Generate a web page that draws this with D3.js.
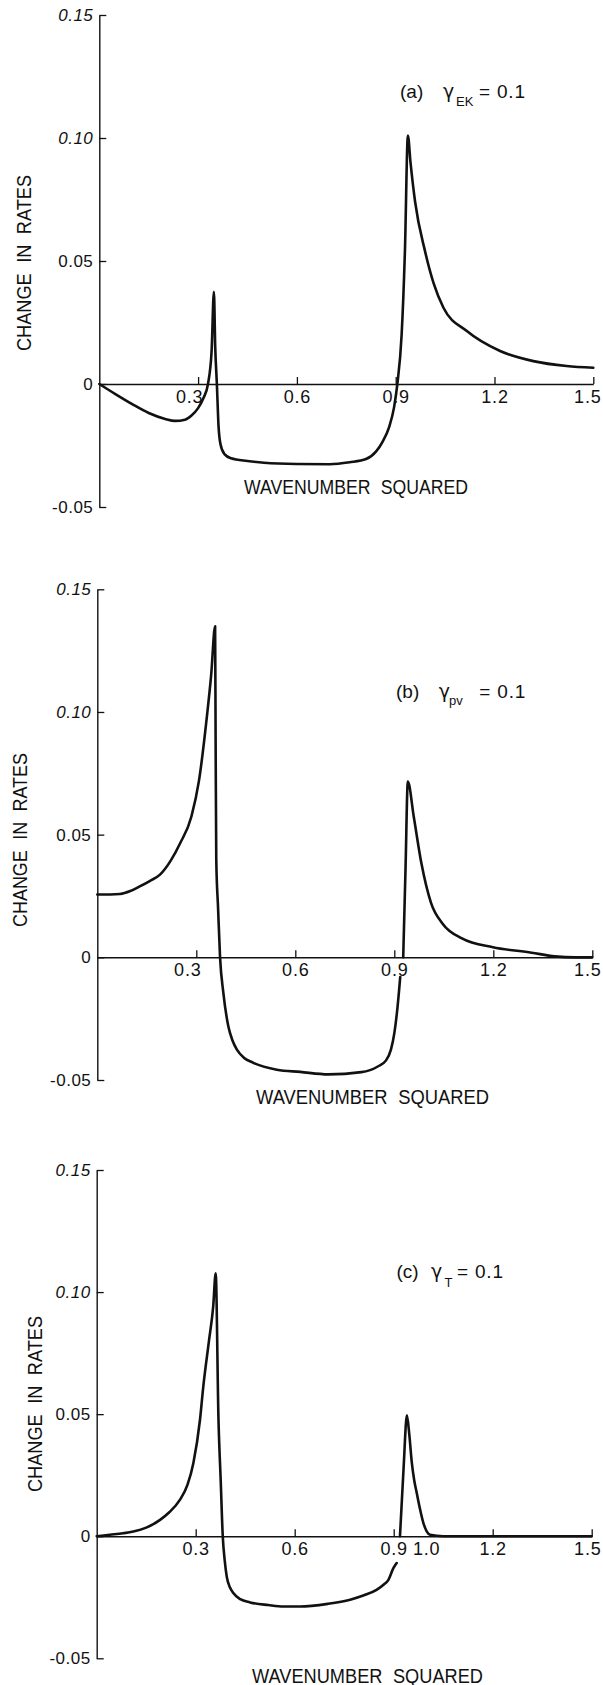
<!DOCTYPE html>
<html><head><meta charset="utf-8">
<script src="https://cdn.jsdelivr.net/npm/d3@7"></script>
<style>
html,body{margin:0;padding:0;background:#fff;}
svg{display:block;background:#fff;}
text{font-family:"Liberation Sans",Arial,Helvetica,sans-serif;fill:#111;}
</style></head><body>
<svg id="chart" width="603" height="1685"></svg>
<script>
// ---------------- data ----------------
const yTickValues = [-0.05, 0, 0.05, 0.10, 0.15];
const yTickLabels = ["-0.05", "0", "0.05", "0.10", "0.15"];
const xTickValues = [0.3, 0.6, 0.9, 1.2, 1.5];
const xTickLabels = ["0.3", "0.6", "0.9", "1.2", "1.5"];
const xExtraLabelValuesC = [1.0];
const xExtraLabelsC = ["1.0"];
const xTitle = "WAVENUMBER SQUARED";
const yTitle = "CHANGE IN RATES";
const panelTags = ["(a)", "(b)", "(c)"];
const gammaSubs = ["EK", "pv", "T"];
const gammaValues = ["0.1", "0.1", "0.1"];

// (a) gamma_EK = 0.1
const xA = [0, 0.05, 0.1, 0.15, 0.2, 0.23, 0.26, 0.28, 0.3, 0.316, 0.33, 0.341, 0.348, 0.352, 0.357, 0.362, 0.368, 0.38, 0.4, 0.45, 0.5, 0.6, 0.7, 0.76, 0.81, 0.84, 0.86, 0.88, 0.895, 0.905, 0.918, 0.928, 0.937, 0.945, 0.959, 0.989, 1.015, 1.045, 1.116, 1.217, 1.318, 1.419, 1.5];
const yA = [0, -0.0042, -0.0082, -0.0118, -0.0142, -0.015, -0.0145, -0.0128, -0.0098, -0.0058, 0, 0.0134, 0.0375, 0.015, 0, -0.017, -0.0245, -0.0285, -0.0302, -0.0313, -0.032, -0.0325, -0.0326, -0.0318, -0.0305, -0.0275, -0.0235, -0.0175, -0.0095, 0, 0.02, 0.054, 0.101, 0.09, 0.074, 0.054, 0.041, 0.031, 0.0215, 0.0134, 0.0093, 0.0073, 0.0066];

// (b) gamma_pv = 0.1 (two branches)
const xB1 = [0, 0.04, 0.069, 0.1, 0.13, 0.16, 0.19, 0.223, 0.251, 0.285, 0.308, 0.332, 0.345, 0.357, 0.3585, 0.3605, 0.366, 0.372, 0.382, 0.397, 0.41, 0.423, 0.445, 0.473, 0.544, 0.615, 0.7, 0.8, 0.85, 0.875, 0.89, 0.9, 0.91, 0.918];
const yB1 = [0.0256, 0.0256, 0.0258, 0.027, 0.029, 0.0312, 0.0337, 0.0395, 0.0465, 0.0573, 0.0719, 0.098, 0.115, 0.1349, 0.09, 0.04, 0.02, 0, -0.0145, -0.0281, -0.034, -0.0376, -0.041, -0.043, -0.0458, -0.0467, -0.0477, -0.0468, -0.0445, -0.042, -0.0375, -0.031, -0.02, -0.008];
const xB2 = [0.927, 0.934, 0.941, 0.959, 0.982, 1.011, 1.047, 1.105, 1.199, 1.316, 1.386, 1.45, 1.5];
const yB2 = [0, 0.036, 0.0716, 0.0573, 0.0384, 0.0223, 0.0136, 0.0077, 0.0041, 0.0019, 0.0004, 0, 0];

// (c) gamma_T = 0.1 (two branches)
const xC1 = [0, 0.04, 0.08, 0.111, 0.15, 0.192, 0.22, 0.252, 0.275, 0.293, 0.313, 0.323, 0.34, 0.353, 0.3606, 0.369, 0.376, 0.382, 0.388, 0.394, 0.404, 0.414, 0.435, 0.465, 0.52, 0.566, 0.616, 0.7, 0.768, 0.81, 0.848, 0.87, 0.884, 0.899, 0.909];
const yC1 = [0, 0.0006, 0.0012, 0.0019, 0.0035, 0.0067, 0.0098, 0.0149, 0.021, 0.03, 0.0477, 0.0613, 0.0798, 0.094, 0.1077, 0.048, 0.022, 0, -0.01, -0.0165, -0.021, -0.0233, -0.0258, -0.0271, -0.0282, -0.0288, -0.0288, -0.0277, -0.026, -0.0242, -0.022, -0.0198, -0.0179, -0.0131, -0.011];
const xC2 = [0.919, 0.93, 0.94, 0.947, 0.955, 0.962, 0.97, 0.98, 0.99, 1.0, 1.01, 1.05, 1.2, 1.5];
const yC2 = [0, 0.028, 0.0495, 0.042, 0.03, 0.023, 0.0176, 0.011, 0.0054, 0.002, 0.0006, 0, 0, 0];

// ---------------- layout ----------------
const panels = [
  { series: [[xA, yA]], x0: 99.3, x1: 593.3, yTop: 15, yBot: 507, firstDx: -9,
    yt: { x: 30.5, y0: 175, y1: 351 }, xt: { x0: 244, x1: 468, base: 494 },
    ann: { tag: 400, gam: 443, sub: 456, eq: 479, base: 97.5, subBase: 106 }, extra: false },
  { series: [[xB1, yB1], [xB2, yB2]], x0: 97.3, x1: 592.3, yTop: 589.3, yBot: 1080, firstDx: -9,
    yt: { x: 27, y0: 753, y1: 927 }, xt: { x0: 256, x1: 489, base: 1103.5 },
    ann: { tag: 396, gam: 438.7, sub: 449, eq: 479.3, base: 698.3, subBase: 705 }, extra: false },
  { series: [[xC1, yC1], [xC2, yC2]], x0: 96.7, x1: 591.7, yTop: 1170, yBot: 1658.3, firstDx: 0,
    yt: { x: 42, y0: 1316, y1: 1492 }, xt: { x0: 252, x1: 483, base: 1682.5 },
    ann: { tag: 396.4, gam: 431, sub: 444.5, eq: 457, base: 1278, subBase: 1287 }, extra: true }
];

const svg = d3.select("#chart");
svg.append("rect").attr("width", 603).attr("height", 1685).attr("fill", "#fff");
const ink = "#111";

panels.forEach((p, pi) => {
  const x = d3.scaleLinear().domain([0, 1.5]).range([p.x0, p.x1]);
  const y = d3.scaleLinear().domain([-0.05, 0.15]).range([p.yBot, p.yTop]);
  const g = svg.append("g");

  // y axis
  const ya = g.append("g").attr("transform", `translate(${p.x0},0)`)
    .call(d3.axisLeft(y).tickValues(yTickValues).tickFormat((d, i) => yTickLabels[i])
      .tickSizeInner(-7).tickSizeOuter(0).tickPadding(6));
  ya.attr("font-family", null).attr("font-size", null).attr("color", ink);
  ya.select(".domain").attr("stroke-width", 1.4);
  ya.selectAll(".tick line").attr("stroke-width", 1.3);
  ya.selectAll(".tick text").style("font-size", "17px").style("letter-spacing", "0.5px")
    .style("font-style", d => (d >= 0.1 ? "italic" : "normal"));

  // x axis at y = 0
  const xa = g.append("g").attr("transform", `translate(0,${y(0)})`)
    .call(d3.axisBottom(x).tickValues(xTickValues).tickFormat((d, i) => xTickLabels[i])
      .tickSizeInner(-7).tickSizeOuter(0).tickPadding(6));
  xa.attr("font-family", null).attr("font-size", null).attr("color", ink);
  xa.select(".domain").attr("stroke-width", 1.5);
  xa.selectAll(".tick line").attr("stroke-width", 1.3);
  const n = xTickValues.length;
  xa.selectAll(".tick text").style("font-size", "18px").style("letter-spacing", "0.8px")
    .each(function (d, i) {
      const t = d3.select(this);
      if (i === 0) t.attr("x", p.firstDx);
      if (i === n - 1) t.attr("text-anchor", "end").attr("x", 601 - p.x1);
    });

  if (p.extra) {
    g.selectAll(".extraLbl").data(xExtraLabelValuesC).enter().append("text")
      .attr("x", d => x(d)).attr("y", y(0) + 6).attr("dy", "0.71em")
      .attr("text-anchor", "middle").style("font-size", "18px").style("letter-spacing", "0.8px")
      .text((d, i) => xExtraLabelsC[i]);
  }

  // curves
  const line = d3.line().x(d => x(d[0])).y(d => y(d[1])).curve(d3.curveMonotoneX);
  p.series.forEach(([xs, ys]) => {
    g.append("path").datum(d3.zip(xs, ys)).attr("d", line)
      .attr("fill", "none").attr("stroke", ink).attr("stroke-width", 2.6)
      .attr("stroke-linejoin", "round").attr("stroke-linecap", "round");
  });

  // x title
  g.append("text").attr("x", p.xt.x0).attr("y", p.xt.base)
    .attr("textLength", p.xt.x1 - p.xt.x0).attr("lengthAdjust", "spacingAndGlyphs")
    .style("font-size", "20px").style("word-spacing", "6px").text(xTitle);

  // y title
  const len = p.yt.y1 - p.yt.y0;
  g.append("text").attr("transform", `translate(${p.yt.x},${p.yt.y1}) rotate(-90)`)
    .attr("x", 0).attr("y", 0)
    .attr("textLength", len).attr("lengthAdjust", "spacingAndGlyphs")
    .style("font-size", "20px").style("word-spacing", "6px").text(yTitle);

  // annotation
  const a = p.ann;
  g.append("text").attr("x", a.tag).attr("y", a.base).style("font-size", "19px").text(panelTags[pi]);
  g.append("text").attr("x", a.gam).attr("y", a.base).style("font-size", "19px")
    .style("font-family", "'DejaVu Sans', sans-serif").text("\u03B3");
  g.append("text").attr("x", a.sub).attr("y", a.subBase).style("font-size", "13px").text(gammaSubs[pi]);
  g.append("text").attr("x", a.eq).attr("y", a.base).style("font-size", "19px").style("letter-spacing", "0.8px")
    .text("= " + gammaValues[pi]);
});
</script>
</body></html>
